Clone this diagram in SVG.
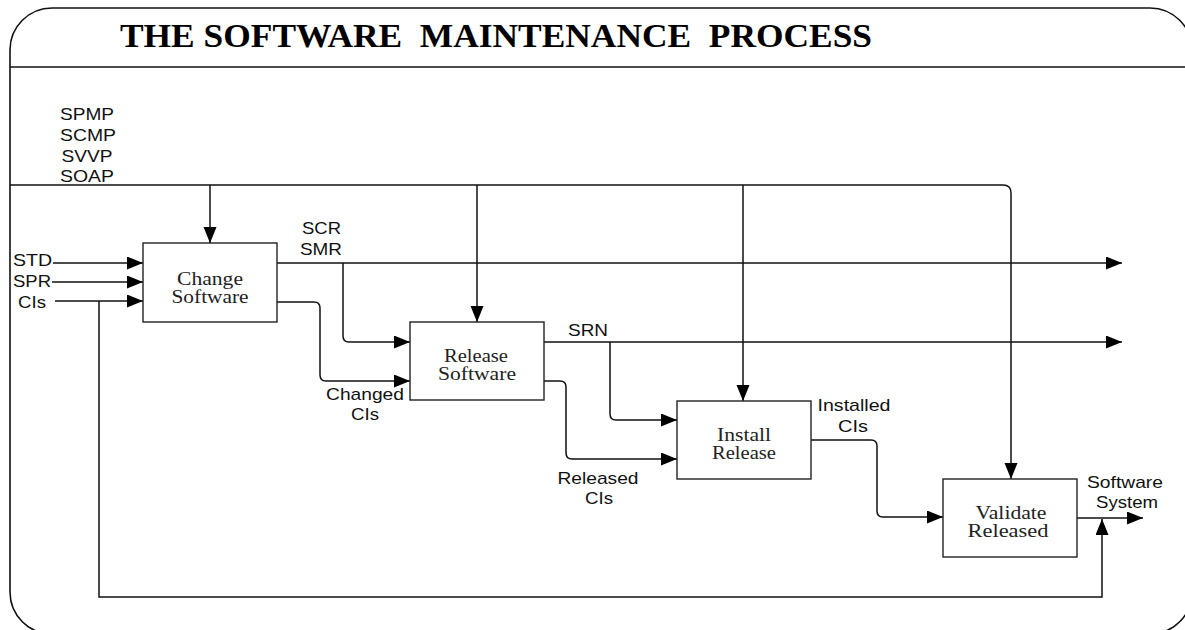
<svg xmlns="http://www.w3.org/2000/svg" width="1185" height="630" viewBox="0 0 1185 630">
  <defs>
    <marker id="arrow" markerUnits="userSpaceOnUse" markerWidth="16" markerHeight="14" refX="16" refY="6.5" orient="auto">
      <path d="M0,0 L16,6.5 L0,13 z" fill="#000"/>
    </marker>
    <style>
      .frame { fill: #fff; stroke: #111; stroke-width: 1.6; }
      .box { fill: #fff; stroke: #222; stroke-width: 1.4; }
      .wire { fill: none; stroke: #111; stroke-width: 1.5; }
      .arr { marker-end: url(#arrow); }
      .title { font-family: "Liberation Serif", "DejaVu Serif", serif; font-weight: bold; font-size: 33px; fill: #000; white-space: pre; }
      .node { font-family: "Liberation Serif", "DejaVu Serif", serif; font-size: 18px; fill: #222; text-anchor: middle; }
      .lbl { font-family: "Liberation Sans", Arial, sans-serif; font-size: 17px; fill: #111; }
      .mid { text-anchor: middle; }
    </style>
  </defs>

  <!-- outer frame and title band -->
  <rect class="frame" x="10" y="8" width="1182" height="626" rx="42" ry="42"/>
  <line class="wire" x1="10" y1="67" x2="1192" y2="67"/>
  <text class="title" x="120" y="47" textLength="752" lengthAdjust="spacingAndGlyphs">THE SOFTWARE  MAINTENANCE  PROCESS</text>

  <!-- control inputs -->
  <g id="controls">
    <text class="lbl mid" x="87" y="120" textLength="54" lengthAdjust="spacingAndGlyphs">SPMP</text>
    <text class="lbl mid" x="88" y="141" textLength="56" lengthAdjust="spacingAndGlyphs">SCMP</text>
    <text class="lbl mid" x="87" y="162" textLength="51" lengthAdjust="spacingAndGlyphs">SVVP</text>
    <text class="lbl mid" x="87" y="182" textLength="54" lengthAdjust="spacingAndGlyphs">SOAP</text>
  </g>

  <!-- connectors -->
  <g id="connectors">
    <!-- plans bus and drops -->
    <path class="wire arr" d="M10,185 H1003 Q1011,185 1011,193 V479"/>
    <path class="wire arr" d="M210,185 V243"/>
    <path class="wire arr" d="M477,185 V322"/>
    <path class="wire arr" d="M743,185 V401"/>
    <!-- left inputs -->
    <path class="wire arr" d="M53,263 H143"/>
    <path class="wire arr" d="M52,282 H143"/>
    <path class="wire arr" d="M55,301 H143"/>
    <!-- CIs feedback to system output -->
    <path class="wire arr" d="M99,301 V597 H1102 V519"/>
    <!-- SCR / SMR -->
    <path class="wire arr" d="M277,263 H1122"/>
    <path class="wire arr" d="M343,263 V336 Q343,342 349,342 H410"/>
    <!-- changed CIs -->
    <path class="wire arr" d="M277,302 H314 Q320,302 320,308 V375 Q320,381 326,381 H410"/>
    <!-- SRN -->
    <path class="wire arr" d="M543,342 H1122"/>
    <path class="wire arr" d="M610,342 V414 Q610,420 616,420 H677"/>
    <!-- released CIs -->
    <path class="wire arr" d="M543,381 H560 Q566,381 566,387 V453 Q566,459 572,459 H677"/>
    <!-- installed CIs -->
    <path class="wire arr" d="M811,440 H871 Q877,440 877,446 V511 Q877,517 883,517 H943"/>
    <!-- software system output -->
    <path class="wire arr" d="M1077,518 H1143"/>
  </g>

  <!-- edge labels -->
  <g id="labels">
    <text class="lbl" x="13" y="266" textLength="39" lengthAdjust="spacingAndGlyphs">STD</text>
    <text class="lbl" x="13" y="287" textLength="38" lengthAdjust="spacingAndGlyphs">SPR</text>
    <text class="lbl" x="18" y="308" textLength="28" lengthAdjust="spacingAndGlyphs">CIs</text>
    <text class="lbl" x="302" y="234" textLength="39" lengthAdjust="spacingAndGlyphs">SCR</text>
    <text class="lbl" x="300" y="255" textLength="42" lengthAdjust="spacingAndGlyphs">SMR</text>
    <text class="lbl" x="568" y="336" textLength="40" lengthAdjust="spacingAndGlyphs">SRN</text>
    <text class="lbl mid" x="365" y="400" textLength="78" lengthAdjust="spacingAndGlyphs">Changed</text>
    <text class="lbl mid" x="365" y="420" textLength="28" lengthAdjust="spacingAndGlyphs">CIs</text>
    <text class="lbl mid" x="598" y="484" textLength="81" lengthAdjust="spacingAndGlyphs">Released</text>
    <text class="lbl mid" x="599" y="504" textLength="28" lengthAdjust="spacingAndGlyphs">CIs</text>
    <text class="lbl mid" x="854" y="411" textLength="73" lengthAdjust="spacingAndGlyphs">Installed</text>
    <text class="lbl mid" x="853" y="432" textLength="30" lengthAdjust="spacingAndGlyphs">CIs</text>
    <text class="lbl mid" x="1125" y="488" textLength="76" lengthAdjust="spacingAndGlyphs">Software</text>
    <text class="lbl mid" x="1127" y="508" textLength="62" lengthAdjust="spacingAndGlyphs">System</text>
  </g>

  <!-- process boxes -->
  <g id="change-software">
    <rect class="box" x="143" y="243" width="134" height="79"/>
    <text class="node" x="210" y="285" textLength="66" lengthAdjust="spacingAndGlyphs">Change</text>
    <text class="node" x="210" y="303" textLength="77" lengthAdjust="spacingAndGlyphs">Software</text>
  </g>
  <g id="release-software">
    <rect class="box" x="410" y="322" width="134" height="78"/>
    <text class="node" x="476" y="362" textLength="64" lengthAdjust="spacingAndGlyphs">Release</text>
    <text class="node" x="477" y="380" textLength="78" lengthAdjust="spacingAndGlyphs">Software</text>
  </g>
  <g id="install-release">
    <rect class="box" x="677" y="401" width="134" height="78"/>
    <text class="node" x="744" y="441" textLength="54" lengthAdjust="spacingAndGlyphs">Install</text>
    <text class="node" x="744" y="459" textLength="64" lengthAdjust="spacingAndGlyphs">Release</text>
  </g>
  <g id="validate-released">
    <rect class="box" x="943" y="479" width="134" height="78"/>
    <text class="node" x="1011" y="519" textLength="71" lengthAdjust="spacingAndGlyphs">Validate</text>
    <text class="node" x="1008" y="537" textLength="81" lengthAdjust="spacingAndGlyphs">Released</text>
  </g>
</svg>
